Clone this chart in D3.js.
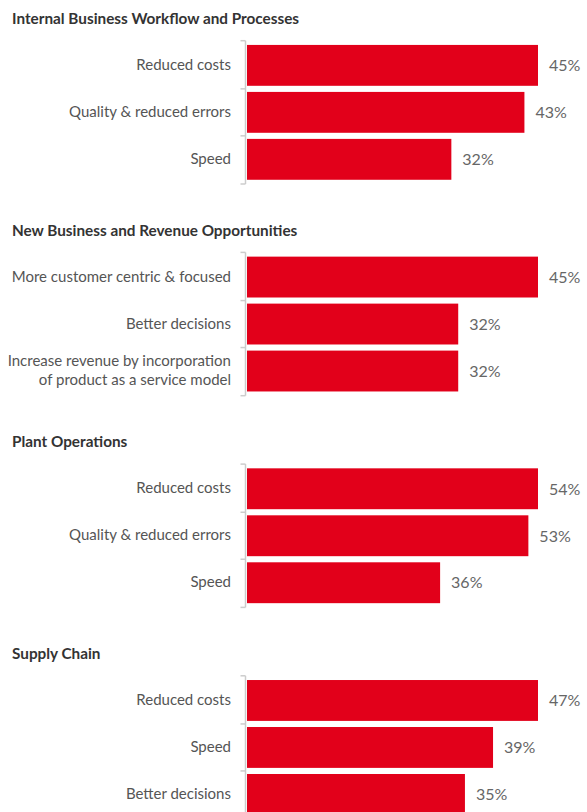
<!DOCTYPE html>
<html><head><meta charset="utf-8">
<script src="https://cdn.jsdelivr.net/npm/d3@7"></script>
<style>body{margin:0;background:#fff;overflow:hidden}</style>
</head><body><svg id="c" width="587" height="812"></svg>
<script>
const panelTitles = [
  "Internal Business Workflow and Processes",
  "New Business and Revenue Opportunities",
  "Plant Operations",
  "Supply Chain"
];
const categories1 = ["Reduced costs", "Quality & reduced errors", "Speed"];
const categories2 = ["More customer centric & focused", "Better decisions", "Increase revenue by incorporation|of product as a service model"];
const categories3 = ["Reduced costs", "Quality & reduced errors", "Speed"];
const categories4 = ["Reduced costs", "Speed", "Better decisions"];
const values1 = [45, 42.9, 31.6];
const values2 = [44.5, 32.3, 32.3];
const values3 = [54.4, 52.6, 36.1];
const values4 = [46.6, 39.4, 34.9];

const panels = panelTitles.map((t, i) => ({
  title: t,
  cats: [categories1, categories2, categories3, categories4][i],
  vals: [values1, values2, values3, values4][i]
}));

const svg = d3.select("#c");
const FONT = "Lato, 'Open Sans', sans-serif";
const panelStep = 211.7;
const fmt = d3.format(".0f");

panels.forEach((p, i) => {
  const top = 40.7 + i * panelStep;
  const bottom = top + 143.3;
  const g = svg.append("g");
  g.append("text").attr("x", 12).attr("y", 24 + i * panelStep)
    .attr("font-family", FONT).attr("font-weight", "bold").attr("font-size", 15.3)
    .attr("fill", "#333").text(p.title);

  const y = d3.scaleBand().domain(p.cats).range([top, bottom]).paddingInner(0.13).paddingOuter(0.09);
  const x = d3.scaleLinear().domain([0, d3.max(p.vals)]).range([247, 538]);

  // axis line
  g.append("line").attr("x1", 245.5).attr("x2", 245.5).attr("y1", top).attr("y2", bottom)
    .attr("stroke", "#ccc").attr("stroke-width", 1.5);
  // ticks at band boundaries
  const tickYs = [top];
  for (let k = 1; k < p.cats.length; k++) {
    tickYs.push((y(p.cats[k - 1]) + y.bandwidth() + y(p.cats[k])) / 2);
  }
  tickYs.push(bottom);
  g.selectAll(".tick").data(tickYs).join("line")
    .attr("x1", 240.5).attr("x2", 245.5).attr("y1", d => d).attr("y2", d => d)
    .attr("stroke", "#ccc").attr("stroke-width", 1.5);

  g.selectAll(".bar").data(p.cats).join("rect")
    .attr("x", x(0)).attr("y", d => y(d))
    .attr("width", (d, j) => x(p.vals[j]) - x(0)).attr("height", y.bandwidth())
    .attr("fill", "#e2001a");

  g.selectAll(".vlab").data(p.cats).join("text")
    .attr("x", (d, j) => x(p.vals[j]) + 11).attr("y", d => y(d) + y.bandwidth() / 2)
    .attr("dy", "0.36em").attr("font-family", FONT).attr("font-size", 16)
    .attr("fill", "#666").text((d, j) => fmt(p.vals[j]) + "%");

  p.cats.forEach(c => {
    const lines = c.split("|");
    const cy = y(c) + y.bandwidth() / 2;
    const lh = 19;
    const t = g.append("text").attr("text-anchor", "end")
      .attr("font-family", FONT).attr("font-size", 15).attr("fill", "#555");
    lines.forEach((l, k) => {
      t.append("tspan").attr("x", 231)
        .attr("y", cy + (k - (lines.length - 1) / 2) * lh)
        .attr("dy", "0.3em").text(l);
    });
  });
});
</script></body></html>
